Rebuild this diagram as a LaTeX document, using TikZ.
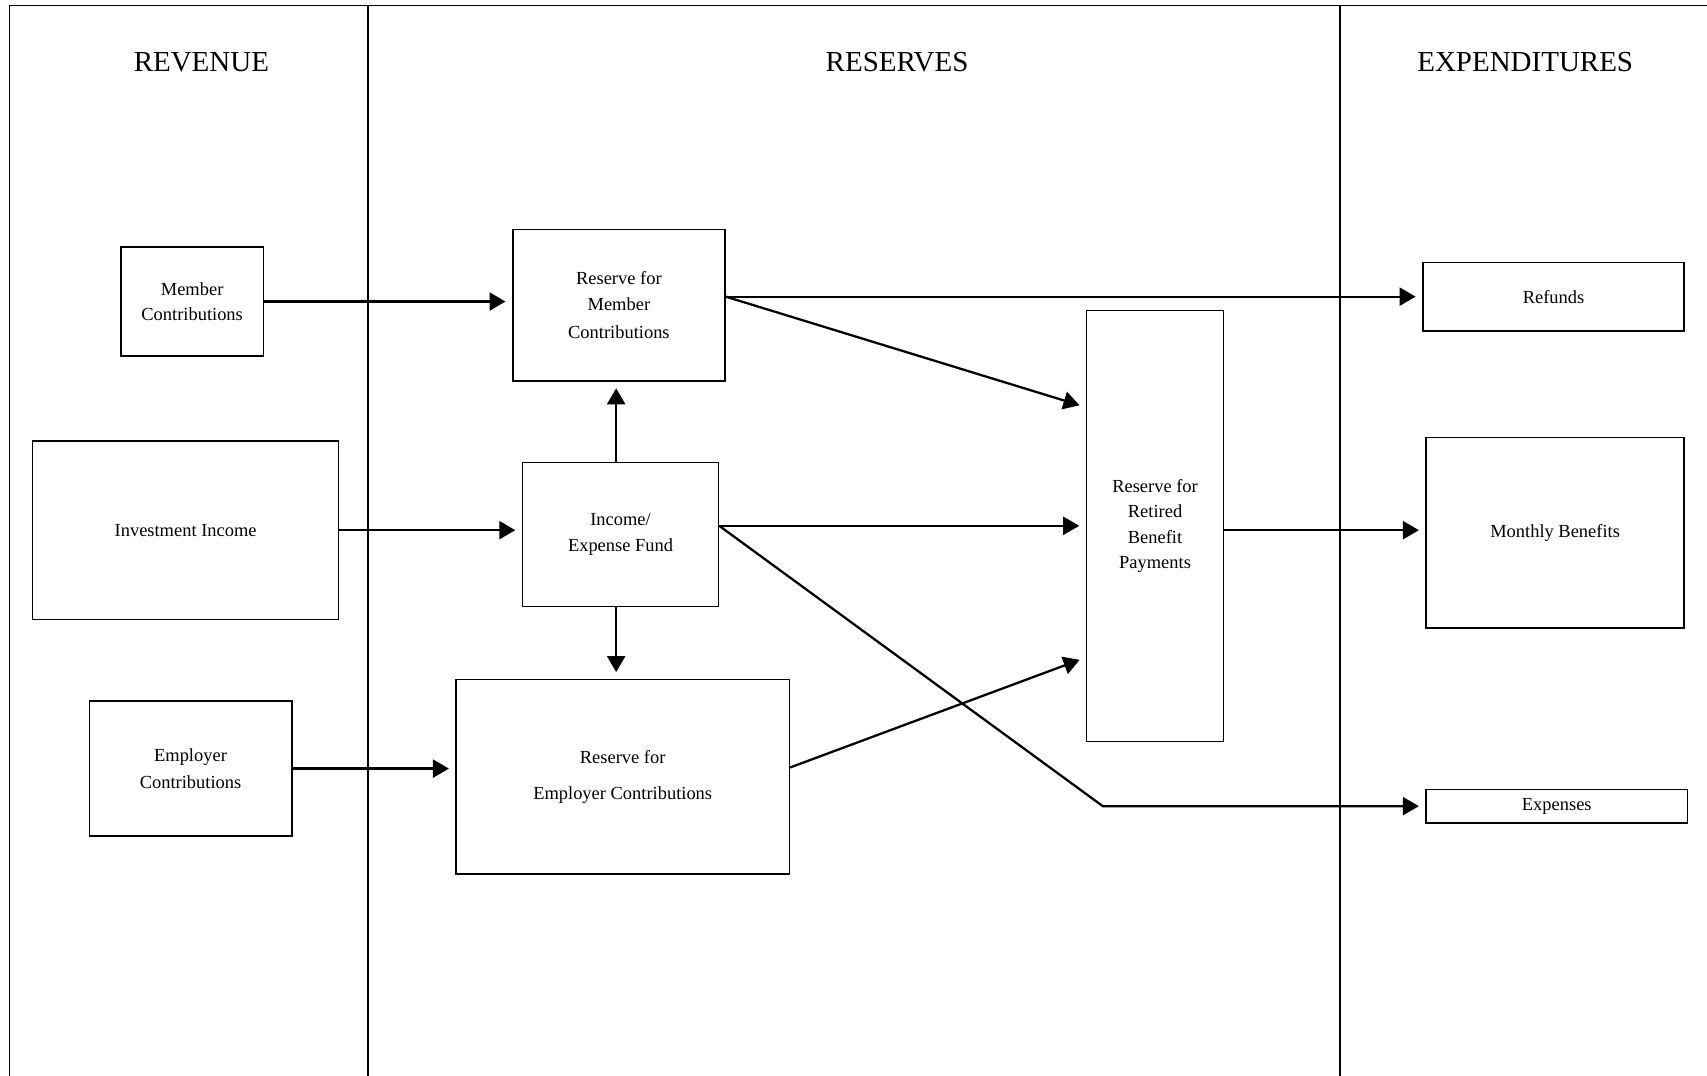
\documentclass[tikz,border=0pt]{standalone}
\usepackage{fontspec}
\setmainfont{Liberation Serif}
\usetikzlibrary{arrows.meta}
\newcommand{\pu}{0.021773cm}
\newcommand{\boxfont}{\fontsize{10.5}{14.5}\selectfont}
\newcommand{\headfont}{\fontsize{16.5}{20}\selectfont}
\tikzset{
	box/.style={draw, line width=0.85pt, inner sep=0pt, align=center, font=\boxfont},
	head/.style={font=\headfont},
	flow/.style={-{Triangle[length=0.32cm, width=0.36cm]}, line width=1.3pt, shorten >=0.13cm},
}

\begin{document}
\begin{tikzpicture}[x=0.021773cm, y=-0.021773cm]
	\useasboundingbox (0,0) rectangle (1568,988);
	% frame and columns
	\draw[line width=0.7pt] (9,988) -- (9,5) -- (1568,5);
	\foreach \x in {338,1231}{
		\draw[line width=1.1pt] (\x,5) -- (\x,988);
	}
	\node[head] (hrev) at (185,57) {REVENUE};
	\node[head] (hres) at (824,57) {RESERVES};
	\node[head] (hexp) at (1401,57) {EXPENDITURES};

	% revenue
	\node[box, minimum width=131*\pu, minimum height=100*\pu] (memc) at (176.5,277) {Member\\Contributions};
	\node[box, minimum width=281*\pu, minimum height=164*\pu] (invi) at (170.5,487) {Investment Income};
	\node[box, minimum width=186*\pu, minimum height=124*\pu] (empc) at (175,706) {Employer\\[1pt]Contributions};

	% reserves
	\node[box, minimum width=195*\pu, minimum height=139*\pu] (rmc) at (568.5,280.5) {Reserve for\\Member\\[1.5pt]Contributions};
	\node[box, minimum width=180*\pu, minimum height=132*\pu] (ief) at (570,491) {Income/\\Expense Fund};
	\node[box, minimum width=306*\pu, minimum height=179*\pu] (rec) at (572,713.5) {Reserve for\\[6pt]Employer Contributions};
	\node[box, minimum width=126*\pu, minimum height=396*\pu] (rrbp) at (1061,483) {Reserve for\\Retired\\Benefit\\Payments};

	% expenditures
	\node[box, minimum width=240*\pu, minimum height=63*\pu] (ref) at (1427,272.5) {Refunds};
	\node[box, minimum width=237*\pu, minimum height=175*\pu] (mb) at (1428.5,489.5) {Monthly Benefits};
	\node[box, minimum width=240*\pu, minimum height=31*\pu] (exps) at (1430,740.5) {Expenses};
	\coordinate (bend) at (1013,740.5);

	% flows
	\draw[flow] (memc.east) -- (memc.east -| rmc.west);
	\draw[flow] (invi.east) -- (invi.east -| ief.west);
	\draw[flow] (empc.east) -- (empc.east -| rec.west);
	\draw[flow] ([xshift=-4*\pu]ief.north) -- ([xshift=-4*\pu]ief.north |- rmc.south);
	\draw[flow] ([xshift=-4*\pu]ief.south) -- ([xshift=-4*\pu]ief.south |- rec.north);
	\draw[flow] (rmc.east |- ref.west) -- (ref.west);
	\draw[flow] (rmc.east |- ref.west) -- ([yshift=109*\pu]rrbp.west);
	\draw[flow] (ief.east |- rrbp.west) -- (rrbp.west);
	\draw[flow] (ief.east |- rrbp.west) -- (bend) -- (exps.west);
	\draw[flow] ([yshift=8.5*\pu]rec.east) -- ([yshift=-121*\pu]rrbp.west);
	\draw[flow] ([yshift=-4*\pu]rrbp.east) -- ([yshift=-4*\pu]rrbp.east -| mb.west);
\end{tikzpicture}
\end{document}
